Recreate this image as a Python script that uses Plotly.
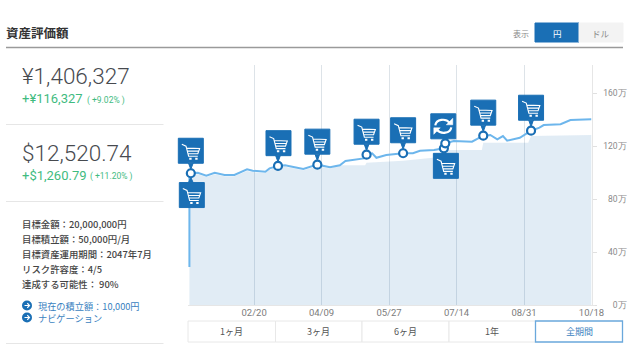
import plotly.graph_objects as go

W, H = 638, 358

# ---- data -----------------------------------------------------------------
value_dates = ["2017-01-05", "2017-01-05", "2017-01-06", "2017-01-11", "2017-01-17", "2017-01-23", "2017-01-30",
               "2017-02-06", "2017-02-15", "2017-02-19", "2017-02-28", "2017-03-03", "2017-03-09", "2017-03-14",
               "2017-03-20", "2017-03-27", "2017-04-06", "2017-04-15", "2017-04-22", "2017-04-26", "2017-05-09",
               "2017-05-11", "2017-05-15", "2017-05-18", "2017-05-25", "2017-06-06", "2017-06-13", "2017-06-18",
               "2017-06-28", "2017-07-05", "2017-07-06", "2017-07-12", "2017-07-25", "2017-08-02", "2017-08-07",
               "2017-08-12", "2017-08-16", "2017-08-19", "2017-08-28", "2017-09-05", "2017-09-11", "2017-09-14",
               "2017-09-26", "2017-10-03", "2017-10-18"]
asset_values = [29, 100, 99.8, 100.2, 98, 100.2, 98.5,
                98.5, 102.8, 101.7, 101, 103.5, 105.3, 105.8,
                104.5, 103, 106.3, 104.3, 105.8, 109, 111,
                113.8, 114.9, 111.5, 113.6, 114.9, 114.9, 116.8,
                117.4, 118.6, 122.4, 124.2, 123.6, 128.2, 128.7,
                125.4, 127.9, 124.4, 126.6, 131.9, 134.2, 136.2,
                136.8, 140, 140.5]

invest_dates = ["2017-01-05", "2017-01-06", "2017-01-11", "2017-01-17", "2017-01-23", "2017-01-30", "2017-02-06",
                "2017-02-15", "2017-02-19", "2017-02-28", "2017-03-03", "2017-03-09", "2017-03-14", "2017-03-20",
                "2017-03-27", "2017-04-06", "2017-04-15", "2017-04-22", "2017-05-10", "2017-05-11", "2017-06-06",
                "2017-07-04", "2017-07-05", "2017-08-01", "2017-08-02", "2017-09-03", "2017-09-05", "2017-10-18"]
invest_values = [98.5, 98.5, 99, 97, 99, 97.5, 97.5,
                 101.5, 100.7, 100, 102.5, 104, 104.8, 103.5,
                 102, 105, 103.3, 105.9, 105.9, 107.8, 109.3,
                 112.3, 117.4, 117.4, 122.9, 122.9, 127.9, 128.7]

x_ticks = ["2017-02-20", "2017-04-09", "2017-05-27", "2017-07-14", "2017-08-31", "2017-10-18"]
y_ticks = [0, 40, 80, 120, 160]
y_tick_labels = ["0万", "40万", "80万", "120万", "160万"]

event_dates = ["2017-01-06", "2017-03-09", "2017-04-06", "2017-05-11", "2017-06-06",
               "2017-07-05", "2017-07-06", "2017-08-02", "2017-09-05"]

# icon: date, kind, pixel offset of the badge from its point
icons = [("2017-01-06", "cart", 0, 22.5), ("2017-01-06", "cart", 1, -21.8),
         ("2017-03-09", "cart", 0.5, 22.8), ("2017-04-06", "cart", 0, 23),
         ("2017-05-11", "cart", 0, 23), ("2017-06-06", "cart", 0, 23),
         ("2017-07-05", "cart", 2, -17.5), ("2017-07-06", "sync", -2, 17),
         ("2017-08-02", "cart", 0, 23), ("2017-09-05", "cart", 0, 23)]

summary_lines = ["目標金額：20,000,000円", "目標積立額：50,000円/月", "目標資産運用期間：2047年7月",
                 "リスク許容度：4/5", "達成する可能性： 90%"]
link_lines = ["現在の積立額：10,000円", "ナビゲーション"]
range_labels = ["1ヶ月", "3ヶ月", "6ヶ月", "1年", "全期間"]

# ---- style ----------------------------------------------------------------
BLUE = "#1a6fb5"
LINE = "#6db6ec"
GREEN = "#3fbb7f"
DARK = "#474a4f"
CJK = "Noto Sans CJK JP"
LIGHT_F = "Roboto"


def px(x):
    return x / W


def py(y):
    return 1 - y / H


lookup = dict(zip(value_dates[1:], asset_values[1:]))

fig = go.Figure()
fig.add_trace(go.Scatter(x=invest_dates, y=invest_values, mode="lines", line=dict(width=0),
                         fill="tozeroy", fillcolor="rgba(26,111,181,0.13)", hoverinfo="skip"))
fig.add_trace(go.Scatter(x=value_dates, y=asset_values, mode="lines",
                         line=dict(color=LINE, width=2), hoverinfo="skip"))
fig.add_trace(go.Scatter(x=event_dates, y=[lookup[d] for d in event_dates], mode="markers",
                         marker=dict(size=8, color="white", line=dict(color=BLUE, width=2.2)),
                         hoverinfo="skip"))

shapes = []
annotations = []


def text(x, y, s, size, color, anchor="left", family=CJK, weight=None):
    f = dict(size=size, color=color, family=family)
    if weight:
        f["weight"] = weight
    annotations.append(dict(x=px(x), y=py(y), xref="paper", yref="paper", text=s, showarrow=False,
                            xanchor=anchor, yanchor="middle", align="left", font=f, borderpad=0, borderwidth=0))


def hline(x0, x1, y, color, width=1):
    shapes.append(dict(type="line", xref="paper", yref="paper", x0=px(x0), x1=px(x1), y0=py(y), y1=py(y),
                       line=dict(color=color, width=width)))


def rect(x0, x1, y0, y1, fill, border, width=1):
    shapes.append(dict(type="rect", xref="paper", yref="paper", x0=px(x0), x1=px(x1), y0=py(y0), y1=py(y1),
                       fillcolor=fill, line=dict(color=border, width=width)))


def anchored(date, val, path, fill=None, color=None, width=0):
    s = dict(type="path", xref="x", yref="y", xsizemode="pixel", ysizemode="pixel",
             xanchor=date, yanchor=val, path=path, layer="above",
             line=dict(color=color or "rgba(0,0,0,0)", width=width))
    if fill:
        s["fillcolor"] = fill
    shapes.append(s)


def P(pts, dx, dy, close=False):
    return "M" + " L".join(f"{x + dx:.1f},{y + dy:.1f}" for x, y in pts) + (" Z" if close else "")


for date, kind, dx, dy in icons:
    val = lookup[date]
    r = 12.5
    up = dy > 0
    tip = 4 if up else -4
    edge = dy - r if up else dy + r
    pts = [(dx - r, dy - r), (dx + r, dy - r), (dx + r, dy + r), (dx - r, dy + r)]
    body = P(pts, 0, 0, True)
    tip_pts = [(-2.5, edge + (0.5 if up else -0.5)), (2.5, edge + (0.5 if up else -0.5)), (0, tip)]
    anchored(date, val, body + " " + P(tip_pts, 0, 0, True), fill=BLUE, color=BLUE, width=1)
    if kind == "cart":
        parts = [P([(-9, 6.5), (-4.8, 4.6), (-2.2, -5.5), (7, -5.5)], dx, dy),
                 P([(-4.3, 2.6), (8.8, 2.2), (7, -3), (-2.9, -3)], dx, dy),
                 P([(-3.6, -0.2), (8, -0.4)], dx, dy)]
        anchored(date, val, " ".join(parts), color="white", width=1.1)
        anchored(date, val, P([(-1.6, -8), (0.8, -8)], dx, dy) + " " + P([(4.4, -8), (6.8, -8)], dx, dy),
                 color="white", width=2)
    else:
        cx, cy = dx, dy
        a1 = f"M{cx - 8},{cy + 1} C{cx - 7},{cy + 7} {cx + 2},{cy + 8.5} {cx + 6.5},{cy + 3.5}"
        a2 = f"M{cx + 8},{cy - 1} C{cx + 7},{cy - 7} {cx - 2},{cy - 8.5} {cx - 6.5},{cy - 3.5}"
        anchored(date, val, a1 + " " + a2, color="white", width=2.2)
        h1 = P([(9.5, 8), (9.5, 1.5), (3, 1.5)], cx, cy, True)
        h2 = P([(-9.5, -8), (-9.5, -1.5), (-3, -1.5)], cx, cy, True)
        anchored(date, val, h1 + " " + h2, fill="white", color="white", width=0.5)

# header
text(6, 32, "資産評価額", 12.5, "#333333", weight=700)
hline(6, 623, 47.5, "#9a9a9a", 1.6)
text(521, 33, "表示", 8, "#8a8a8a", "center")
rect(535, 579, 23, 42, BLUE, BLUE)
rect(579, 623, 23, 42, "#f3f3f3", "#f3f3f3")
text(557, 32.5, "円", 8.5, "white", "center")
text(601, 32.5, "ドル", 8.5, "#8a8a8a", "center")

# left panel
text(21.5, 76, "¥1,406,327", 22.5, DARK, family=LIGHT_F, weight=300)
text(21.5, 98.5, "+¥116,327", 13, GREEN, family=LIGHT_F)
text(87, 100, "( +9.02% )", 8.5, GREEN, family=LIGHT_F)
hline(6, 163.5, 124.5, "#e6e6e6")
text(21.5, 153, "$12,520.74", 22.5, DARK, family=LIGHT_F, weight=300)
text(21.5, 175.5, "+$1,260.79", 13, GREEN, family=LIGHT_F)
text(89.5, 177, "( +11.20% )", 8.5, GREEN, family=LIGHT_F)
hline(6, 163.5, 201.5, "#e6e6e6")
for i, line in enumerate(summary_lines):
    text(21.5, 224 + i * 15, line, 9.4, "#444444", weight=500)
text(38, 311.5, "<br>".join(link_lines), 9.2, "#3a7fc0")
for i in range(len(link_lines)):
    y = 305.5 + i * 12
    shapes.append(dict(type="circle", xref="paper", yref="paper", x0=px(22), x1=px(32), y0=py(y + 5), y1=py(y - 5),
                       fillcolor=BLUE, line=dict(width=0)))
    shapes.append(dict(type="path", xref="paper", yref="paper",
                       path=(f"M{px(24.5)},{py(y)} L{px(29.5)},{py(y)} "
                             f"M{px(27.3)},{py(y - 2.3)} L{px(29.5)},{py(y)} L{px(27.3)},{py(y + 2.3)}"),
                       line=dict(color="white", width=1.2)))
hline(6, 163.5, 343.5, "#e6e6e6")

# chart baseline
hline(188, 595, 305.5, "#e6e6e6")

# range buttons
edges = [188, 275.5, 362, 449, 535.5, 622.5]
for i, label in enumerate(range_labels):
    active = i == len(range_labels) - 1
    if not active:
        rect(edges[i], edges[i + 1], 321, 342, "white", "#e8e8e8")
    text((edges[i] + edges[i + 1]) / 2, 331.5, label, 9, "#3a7fc0" if active else "#555555", "center")
rect(edges[4], edges[5], 321, 342, "rgba(0,0,0,0)", "#6aa8dc", 1.3)

# right-align the value labels by padding the shorter ones with figure spaces
longest = max(len(t) for t in y_tick_labels)
padded_labels = ["\u2007" * (longest - len(t)) + t for t in y_tick_labels]

fig.update_layout(
    width=W, height=H, margin=dict(l=0, r=0, t=0, b=0, pad=0), autosize=False,
    paper_bgcolor="white", plot_bgcolor="white", showlegend=False,
    shapes=shapes, annotations=annotations,
    xaxis=dict(domain=[px(176), px(591.5)], range=["2016-12-26 11:00", "2017-10-18"], type="date", automargin=False,
               tickvals=x_ticks, tickformat="%m/%d", ticks="", showgrid=True, gridcolor="#dde3e8", gridwidth=1,
               showline=False, zeroline=False,
               tickfont=dict(size=9.5, color="#7c7c7c", family=LIGHT_F)),
    yaxis=dict(domain=[py(305.5), py(65)], range=[0, 181.5], side="right", automargin=False, tickvals=y_ticks,
               ticktext=padded_labels, ticks="outside", ticklen=4, tickcolor="#e0e0e0",
               showgrid=False, showline=True, linecolor="#e6e6e6", linewidth=1, zeroline=False,
               tickfont=dict(size=8.5, color="#8a8a8a", family=LIGHT_F), ticklabelstandoff=5),
)

fig.write_html("out.html", config=dict(displayModeBar=False),
               post_script="document.body.style.margin='0';document.documentElement.style.overflow='hidden';")
